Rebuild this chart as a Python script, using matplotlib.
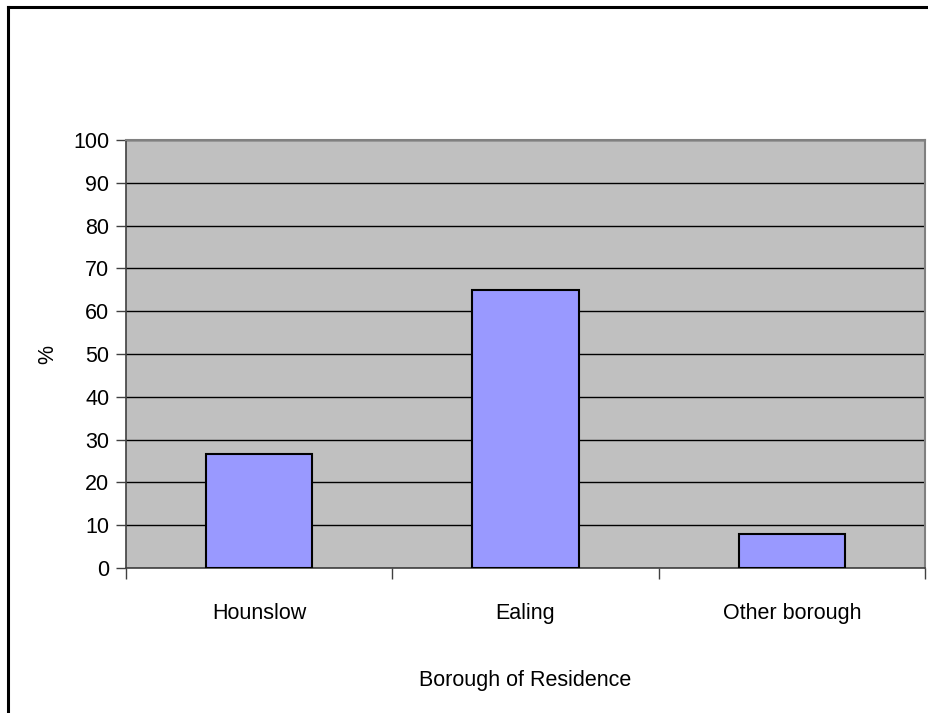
import matplotlib.pyplot as plt
from matplotlib import font_manager

# data
categories = ['Hounslow', 'Ealing', 'Other borough']
percent = [26.7, 65.0, 7.9]
y_ticks = [0, 10, 20, 30, 40, 50, 60, 70, 80, 90, 100]

names = {f.name for f in font_manager.fontManager.ttflist}
font = 'Liberation Sans Narrow' if 'Liberation Sans Narrow' in names else 'Liberation Sans'
plt.rcParams['font.family'] = [font, 'DejaVu Sans']
fs = 16.5 if font.endswith('Narrow') else 15.5

W, H = 929, 713
fig = plt.figure(figsize=(W / 100, H / 100), dpi=100)

# plot area in pixels: left 126, right 925, top 140, bottom 568
ax = fig.add_axes([126 / W, 1 - 568 / H, (925 - 126) / W, (568 - 140) / H])
ax.set_facecolor('#c0c0c0')

x = range(len(categories))
ax.bar(x, percent, width=0.4, color='#9999ff', edgecolor='black', linewidth=1.5, zorder=3)

ax.set_xlim(-0.5, len(categories) - 0.5)
ax.set_ylim(0, 100)
ax.set_yticks(y_ticks)
ax.yaxis.grid(True, color='black', linewidth=1.0, zorder=1)
ax.set_axisbelow(True)

ax.set_xticks([i - 0.5 for i in range(len(categories) + 1)])
ax.set_xticklabels([])
ax.set_xticks(list(x), minor=True)
ax.set_xticklabels(categories, minor=True)
ax.tick_params(axis='x', which='major', length=8, width=1, color='#404040', direction='out')
ax.tick_params(axis='x', which='minor', length=0, pad=25, labelsize=fs)
ax.tick_params(axis='y', length=7, width=1, color='#404040', pad=5, labelsize=fs)

for side in ['top', 'right']:
    ax.spines[side].set_color('#808080')
    ax.spines[side].set_linewidth(1.5)
for side in ['left', 'bottom']:
    ax.spines[side].set_color('#404040')
    ax.spines[side].set_linewidth(1.2)

ax.set_ylabel('%', fontsize=fs, labelpad=11)
ax.set_xlabel('Borough of Residence', fontsize=fs, labelpad=33)

# outer chart border (left and top edges visible)
fig.add_artist(plt.Line2D([8 / W, 8 / W], [0, 1 - 7 / H], color='black', linewidth=2.2))
fig.add_artist(plt.Line2D([8 / W, 1], [1 - 7 / H, 1 - 7 / H], color='black', linewidth=2.2))

fig.savefig('out.png', dpi=100)
